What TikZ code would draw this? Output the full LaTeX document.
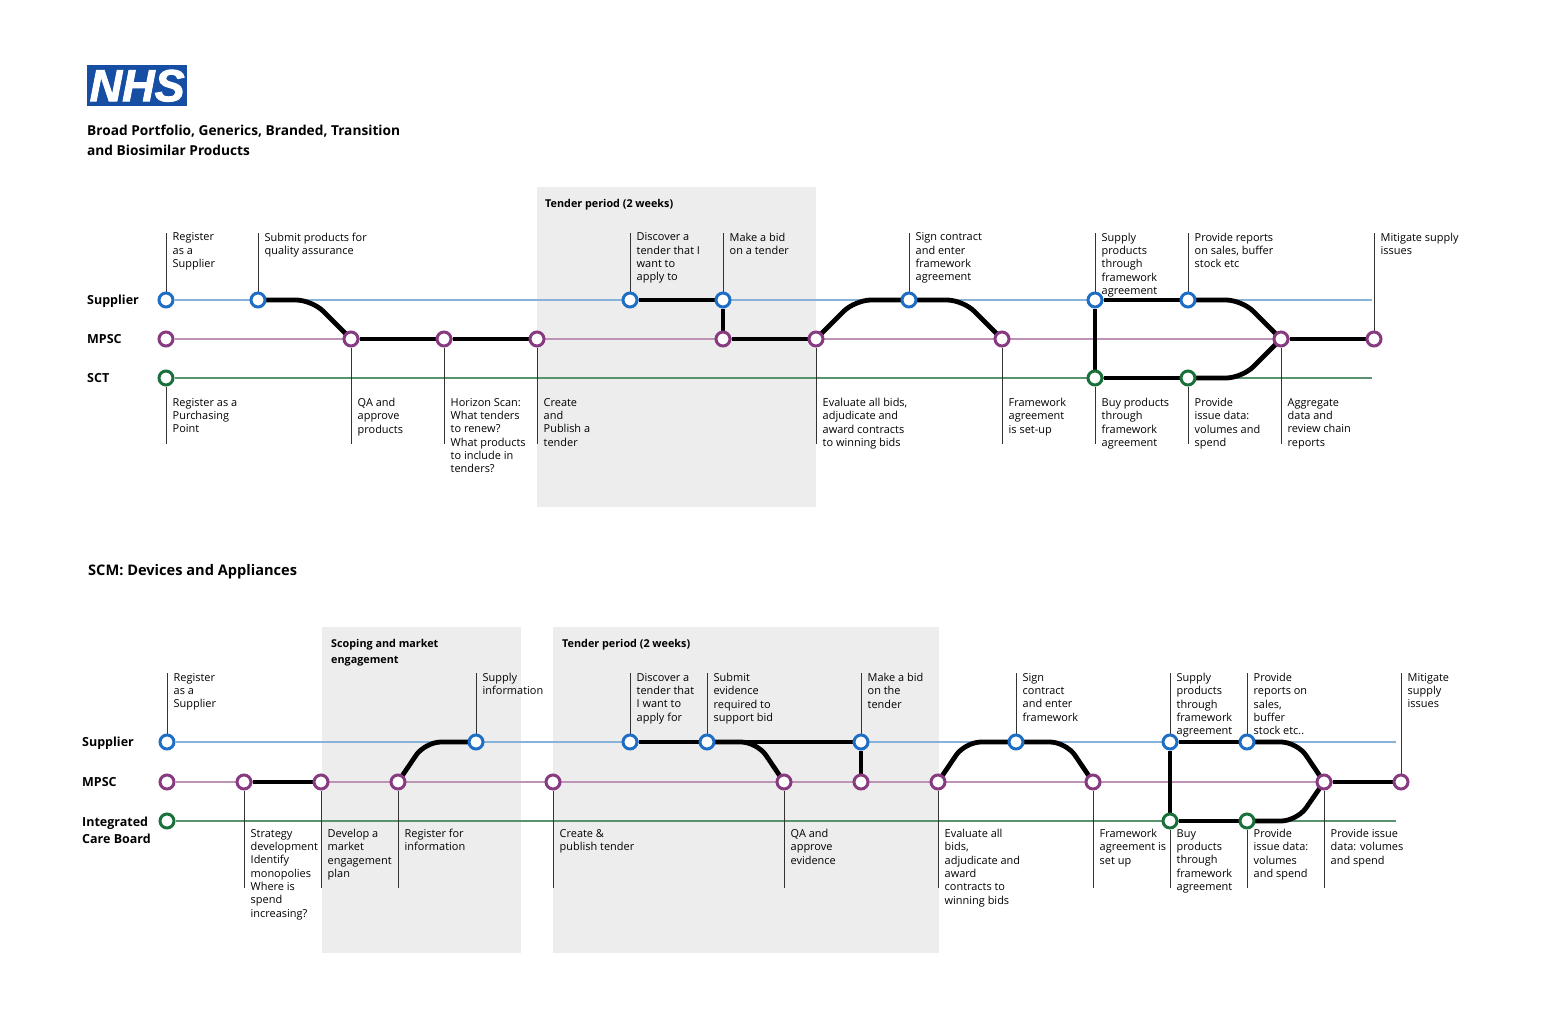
\documentclass[tikz,border=0pt]{standalone}
\usepackage{fontspec}
\setmainfont{Open Sans}
\newfontfamily\logofont[BoldItalicFeatures={FakeBold=2}]{Liberation Sans}
\usepackage{xcolor}
\usetikzlibrary{
    backgrounds
}
\definecolor{LogoBlue}{RGB}{22,78,163}
\definecolor{SupBlue}{RGB}{30,110,198}
\definecolor{SupLine}{RGB}{136,178,216}
\definecolor{MpscPlum}{RGB}{136,58,128}
\definecolor{MpscLine}{RGB}{190,148,182}
\definecolor{CareGreen}{RGB}{26,112,58}
\definecolor{CareLine}{RGB}{88,146,110}
\definecolor{PanelGray}{RGB}{237,237,237}
\tikzset{
  st/.style       = {draw, circle, fill=white, line width=3pt, minimum size=14pt, inner sep=0pt},
  supstop/.style  = {st, draw=SupBlue},
  mpscstop/.style = {st, draw=MpscPlum},
  carestop/.style = {st, draw=CareGreen},
  note/.style     = {anchor=north west, align=left, inner sep=0pt, xshift=6.5pt,
                     font=\fontsize{10.95}{13.35}\selectfont, execute at begin node=\strut},
  role/.style     = {anchor=west, align=left, inner sep=0pt,
                     font=\bfseries\fontsize{12.5}{17}\selectfont},
  title/.style    = {anchor=north west, align=left, inner sep=0pt,
                     font=\bfseries\fontsize{13.7}{20}\selectfont},
  ptitle/.style   = {anchor=west, align=left, inner sep=0pt,
                     font=\bfseries\fontsize{10.8}{16}\selectfont},
  panel/.style    = {fill=PanelGray},
  lead/.style     = {draw=black!80, line width=0.9pt},
  route/.style    = {draw=black, line width=4.8pt, rounded corners=16pt, line join=round},
  supl/.style     = {draw=SupLine, line width=1.2pt},
  mpscl/.style    = {draw=MpscLine, line width=1.2pt},
  carel/.style    = {draw=CareLine, line width=1.2pt}
}

\begin{document}
\begin{tikzpicture}[x=1pt, y=-1pt]
\useasboundingbox (0,0) rectangle (1559,1012);

\node[fill=LogoBlue, text=white, minimum width=100pt, minimum height=41pt, inner sep=0pt,
      anchor=north west, font=\logofont\bfseries\itshape\fontsize{45}{45}\selectfont] (logo) at (87,65) {NHS};
\node[title] (titleA) at (87,125) {Broad Portfolio, Generics, Branded, Transition\\and Biosimilar Products};
\node[title, font=\bfseries\fontsize{14.6}{20}\selectfont] (titleB) at (88,564) {SCM: Devices and Appliances};

\coordinate (topA) at (0,232.5);
\coordinate (lowA) at (0,398);
\coordinate (endA) at (0,444);
\coordinate (topB) at (0,673);
\coordinate (lowB) at (0,829);
\coordinate (endB) at (0,888);

\node[role] (supA) at (87,301) {Supplier};
\node[role] (mpscA) at (87,339) {MPSC};
\node[role] (careA) at (87,378) {SCT};

\node[supstop] (s1) at (166,300) {};
\node[supstop] (s2) at (258,300) {};
\node[supstop] (s3) at (630,300) {};
\node[supstop] (s4) at (723,300) {};
\node[supstop] (s5) at (909,300) {};
\node[supstop] (s6) at (1095,300) {};
\node[supstop] (s7) at (1188,300) {};
\node[mpscstop] (m1) at (166,339) {};
\node[mpscstop] (m2) at (351,339) {};
\node[mpscstop] (m3) at (444,339) {};
\node[mpscstop] (m4) at (537,339) {};
\node[mpscstop] (m5) at (723,339) {};
\node[mpscstop] (m6) at (816,339) {};
\node[mpscstop] (m7) at (1002,339) {};
\node[mpscstop] (m8) at (1281,339) {};
\node[mpscstop] (m9) at (1374,339) {};
\node[carestop] (c1) at (166,378) {};
\node[carestop] (c2) at (1095,378) {};
\node[carestop] (c3) at (1188,378) {};
\coordinate (supEndA) at (1372,300);
\coordinate (careEndA) at (1372,378);

\node[ptitle] (tenderA) at (545,204.5) {Tender period (2 weeks)};

\node[note] (ns1) at (s1 |- topA) {Register\\as a\\Supplier};
\node[note] (ns2) at (s2 |- topA) {Submit products for\\quality assurance};
\node[note] (ns3) at (s3 |- topA) {Discover a\\tender that I\\want to\\apply to};
\node[note] (ns4) at (s4 |- topA) {Make a bid\\on a tender};
\node[note] (ns5) at (s5 |- topA) {Sign contract\\and enter\\framework\\agreement};
\node[note] (ns6) at (s6 |- topA) {Supply\\products\\through\\framework\\agreement};
\node[note] (ns7) at (s7 |- topA) {Provide reports\\on sales, buffer\\stock etc};
\node[note] (nm9) at (m9 |- topA) {Mitigate supply\\issues};
\node[note] (nc1) at (c1 |- lowA) {Register as a\\Purchasing\\Point};
\node[note] (nm2) at (m2 |- lowA) {QA and\\approve\\products};
\node[note] (nm3) at (m3 |- lowA) {Horizon Scan:\\What tenders\\to renew?\\What products\\to include in\\tenders?};
\node[note] (nm4) at (m4 |- lowA) {Create\\and\\Publish a\\tender};
\node[note] (nm6) at (m6 |- lowA) {Evaluate all bids,\\adjudicate and\\award contracts\\to winning bids};
\node[note] (nm7) at (m7 |- lowA) {Framework\\agreement\\is set-up};
\node[note] (nc2) at (c2 |- lowA) {Buy products\\through\\framework\\agreement};
\node[note] (nc3) at (c3 |- lowA) {Provide\\issue data:\\volumes and\\spend};
\node[note] (nm8) at (m8 |- lowA) {Aggregate\\data and\\review chain\\reports};

\node[role] (supB) at (82,743) {Supplier};
\node[role] (mpscB) at (82,782) {MPSC};
\node[role, anchor=north west] (careB) at (82,816.5) {Integrated\\Care Board};

\node[supstop] (a1) at (167,742) {};
\node[supstop] (a2) at (476,742) {};
\node[supstop] (a3) at (630,742) {};
\node[supstop] (a4) at (707,742) {};
\node[supstop] (a5) at (861,742) {};
\node[supstop] (a6) at (1016,742) {};
\node[supstop] (a7) at (1170,742) {};
\node[supstop] (a8) at (1247,742) {};
\node[mpscstop] (b1) at (167,782) {};
\node[mpscstop] (b2) at (244,782) {};
\node[mpscstop] (b3) at (321,782) {};
\node[mpscstop] (b4) at (398,782) {};
\node[mpscstop] (b5) at (553,782) {};
\node[mpscstop] (b6) at (784,782) {};
\node[mpscstop] (b7) at (861,782) {};
\node[mpscstop] (b8) at (938,782) {};
\node[mpscstop] (b9) at (1093,782) {};
\node[mpscstop] (b10) at (1324,782) {};
\node[mpscstop] (b11) at (1401,782) {};
\node[carestop] (d1) at (167,821) {};
\node[carestop] (d2) at (1170,821) {};
\node[carestop] (d3) at (1247,821) {};
\coordinate (supEndB) at (1396,742);
\coordinate (careEndB) at (1396,821);

\node[ptitle] (scopeB) at (331,653) {Scoping and market\\engagement};
\node[ptitle] (tenderB) at (562,645) {Tender period (2 weeks)};

\node[note] (na1) at (a1 |- topB) {Register\\as a\\Supplier};
\node[note] (na2) at (a2 |- topB) {Supply\\information};
\node[note] (na3) at (a3 |- topB) {Discover a\\tender that\\I want to\\apply for};
\node[note] (na4) at (a4 |- topB) {Submit\\evidence\\required to\\support bid};
\node[note] (na5) at (a5 |- topB) {Make a bid\\on the\\tender};
\node[note] (na6) at (a6 |- topB) {Sign\\contract\\and enter\\framework};
\node[note] (na7) at (a7 |- topB) {Supply\\products\\through\\framework\\agreement};
\node[note] (na8) at (a8 |- topB) {Provide\\reports on\\sales,\\buffer\\stock etc..};
\node[note] (nb11) at (b11 |- topB) {Mitigate\\supply\\issues};
\node[note] (nb2) at (b2 |- lowB) {Strategy\\development\\Identify\\monopolies\\Where is\\spend\\increasing?};
\node[note] (nb3) at (b3 |- lowB) {Develop a\\market\\engagement\\plan};
\node[note] (nb4) at (b4 |- lowB) {Register for\\information};
\node[note] (nb5) at (b5 |- lowB) {Create \&\\publish tender};
\node[note] (nb6) at (b6 |- lowB) {QA and\\approve\\evidence};
\node[note] (nb8) at (b8 |- lowB) {Evaluate all\\bids,\\adjudicate and\\award\\contracts to\\winning bids};
\node[note] (nb9) at (b9 |- lowB) {Framework\\agreement is\\set up};
\node[note] (nd2) at (d2 |- lowB) {Buy\\products\\through\\framework\\agreement};
\node[note] (nd3) at (d3 |- lowB) {Provide\\issue data:\\volumes\\and spend};
\node[note] (nb10) at (b10 |- lowB) {Provide issue\\data: volumes\\and spend};

\begin{scope}[on background layer]
\fill[panel] (537,187) rectangle (816,507);
\fill[panel] (322,627) rectangle (521,953);
\fill[panel] (553,627) rectangle (939,953);

\draw[supl] (s1) -- (supEndA);
\draw[mpscl] (m1) -- (m9);
\draw[carel] (c1) -- (careEndA);
\draw[supl] (a1) -- (supEndB);
\draw[mpscl] (b1) -- (b11);
\draw[carel] (d1) -- (careEndB);

\foreach \stopname in {s1,s2,s3,s4,s5,s6,s7,m9}
  \draw[lead] (\stopname) -- (\stopname |- topA);
\foreach \stopname in {c1,m2,m3,m4,m6,m7,c2,c3,m8}
  \draw[lead] (\stopname) -- (\stopname |- endA);
\foreach \stopname in {a1,a2,a3,a4,a5,a6,a7,a8,b11}
  \draw[lead] (\stopname) -- (\stopname |- topB);
\foreach \stopname in {b2,b3,b4,b5,b6,b8,b9,d2,d3,b10}
  \draw[lead] (\stopname) -- (\stopname |- endB);

\draw[route] (s2.center) -- (312,300) -- (m2.center);
\draw[route] (m2) -- (m3);
\draw[route] (m3) -- (m4);
\draw[route] (s3) -- (s4);
\draw[route] (s4) -- (m5);
\draw[route] (m5) -- (m6);
\draw[route] (m6.center) -- (855,300) -- (s5.center);
\draw[route] (s5.center) -- (963,300) -- (m7.center);
\draw[route] (s6) -- (s7);
\draw[route] (s6) -- (c2);
\draw[route] (c2) -- (c3);
\draw[route] (s7.center) -- (1242,300) -- (m8.center);
\draw[route] (c3.center) -- (1242,378) -- (m8.center);
\draw[route] (m8) -- (m9);

\draw[route] (b2) -- (b3);
\draw[route] (b4.center) -- (425,742) -- (a2.center);
\draw[route] (a3) -- (a4);
\draw[route] (a4) -- (a5);
\draw[route] (a4.center) -- (757,742) -- (b6.center);
\draw[route] (a5) -- (b7);
\draw[route] (b8.center) -- (965,742) -- (a6.center);
\draw[route] (a6.center) -- (1066,742) -- (b9.center);
\draw[route] (a7) -- (a8);
\draw[route] (a7) -- (d2);
\draw[route] (d2) -- (d3);
\draw[route] (a8.center) -- (1297,742) -- (b10.center);
\draw[route] (d3.center) -- (1297,821) -- (b10.center);
\draw[route] (b10) -- (b11);
\end{scope}
\end{tikzpicture}
\end{document}
